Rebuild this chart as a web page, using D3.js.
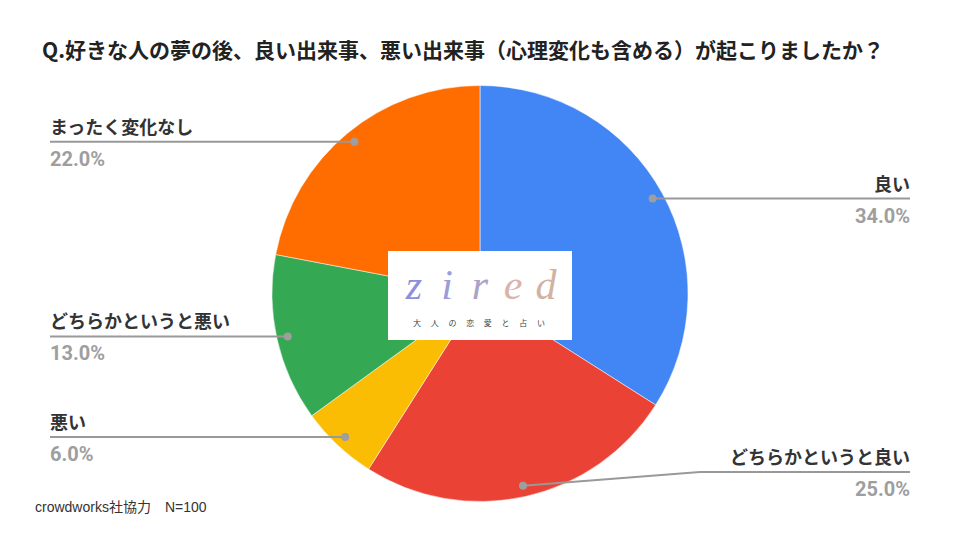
<!DOCTYPE html>
<html>
<head>
<meta charset="utf-8">
<script src="https://cdn.jsdelivr.net/npm/d3@7"></script>
<style>
  html, body { margin: 0; padding: 0; background: #fff; }
  svg { display: block; }
</style>
</head>
<body>
<svg id="chart" width="960" height="540"></svg>
<script>
const title = "Q.好きな人の夢の後、良い出来事、悪い出来事（心理変化も含める）が起こりましたか？";
const categories = ["良い", "どちらかというと良い", "悪い", "どちらかというと悪い", "まったく変化なし"];
const values = [34.0, 25.0, 6.0, 13.0, 22.0];
const colors = ["#4285F4", "#EA4335", "#FBBC04", "#34A853", "#FF6D01"];
const footnote = "crowdworks社協力　N=100";
const logoLetters = ["z", "i", "r", "e", "d"];
const logoColors = ["#8c90dc", "#9c9cd8", "#aaa2c8", "#d8b4aa", "#d2b2a2"];
const logoSub = ["大", "人", "の", "恋", "愛", "と", "占", "い"];

const W = 960, H = 540;
const cx = 480, cy = 293.5, R = 208;
const dotR = 197;
const svg = d3.select("#chart");

svg.append("text")
  .attr("x", 42).attr("y", 58)
  .attr("font-family", "'Noto Sans CJK JP', sans-serif")
  .attr("font-weight", "bold")
  .attr("font-size", 21)
  .attr("fill", "#222")
  .text(title);

const pie = d3.pie().sort(null).value(d => d.value);
const data = pie(categories.map((c, i) => ({ cat: c, value: values[i], color: colors[i] })));
const arc = d3.arc().innerRadius(0).outerRadius(R);
const dotArc = d3.arc().innerRadius(dotR).outerRadius(dotR);

const g = svg.append("g").attr("transform", `translate(${cx},${cy})`);
g.selectAll("path.slice").data(data).enter().append("path")
  .attr("class", "slice")
  .attr("d", arc)
  .attr("fill", d => d.data.color)
  .attr("stroke", "#fff")
  .attr("stroke-width", 0.5);

// leader lines and labels
const leftX = 50, rightX = 910, bendOffset = 177, maxLineY = 472;
const lab = svg.append("g");
data.forEach(d => {
  const [px, py] = dotArc.centroid(d);
  const dx = cx + px, dy = cy + py;
  const right = dx > cx;
  const lineY = Math.min(dy, maxLineY);
  let pts;
  if (right) {
    pts = lineY !== dy ? [[dx, dy], [dx + bendOffset, lineY], [rightX, lineY]] : [[dx, dy], [rightX, lineY]];
  } else {
    pts = [[dx, dy], [leftX, lineY]];
  }
  lab.append("path")
    .attr("d", d3.line()(pts))
    .attr("fill", "none")
    .attr("stroke", "#999")
    .attr("stroke-width", 2);
  lab.append("circle")
    .attr("cx", dx).attr("cy", dy).attr("r", 4)
    .attr("fill", "#9e9e9e");
  const tx = right ? rightX : leftX;
  const anchor = right ? "end" : "start";
  lab.append("text")
    .attr("x", tx).attr("y", lineY - 8)
    .attr("text-anchor", anchor)
    .attr("font-family", "'Noto Sans CJK JP', sans-serif")
    .attr("font-weight", "bold")
    .attr("font-size", 18)
    .attr("fill", "#333")
    .text(d.data.cat);
  lab.append("text")
    .attr("x", tx).attr("y", lineY + 24)
    .attr("text-anchor", anchor)
    .attr("font-family", "Roboto, sans-serif")
    .attr("font-weight", "bold")
    .attr("font-size", 20)
    .attr("fill", "#9e9e9e")
    .text(d3.format(".1f")(d.data.value) + "%");
});

// logo
const logo = svg.append("g").attr("transform", "translate(388,251)");
logo.append("rect").attr("width", 184).attr("height", 89).attr("fill", "#fff");
const lx = d3.scalePoint().domain(d3.range(logoLetters.length)).range([26, 158]);
logo.selectAll("text.l").data(logoLetters).enter().append("text")
  .attr("class", "l")
  .attr("x", (d, i) => lx(i))
  .attr("y", 48)
  .attr("text-anchor", "middle")
  .attr("font-family", "'Liberation Serif', serif")
  .attr("font-style", "italic")
  .attr("font-size", 42)
  .attr("fill", (d, i) => logoColors[i])
  .text(d => d);
const sx = d3.scalePoint().domain(d3.range(logoSub.length)).range([29, 153]);
logo.selectAll("text.s").data(logoSub).enter().append("text")
  .attr("class", "s")
  .attr("x", (d, i) => sx(i))
  .attr("y", 75)
  .attr("text-anchor", "middle")
  .attr("font-family", "'Noto Sans CJK JP', sans-serif")
  .attr("font-size", 8)
  .attr("fill", "#444")
  .text(d => d);

svg.append("text")
  .attr("x", 35).attr("y", 512)
  .attr("font-family", "'Liberation Sans', Arial, 'Noto Sans CJK JP', sans-serif")
  .attr("font-size", 14)
  .attr("fill", "#333")
  .text(footnote);
</script>
</body>
</html>
